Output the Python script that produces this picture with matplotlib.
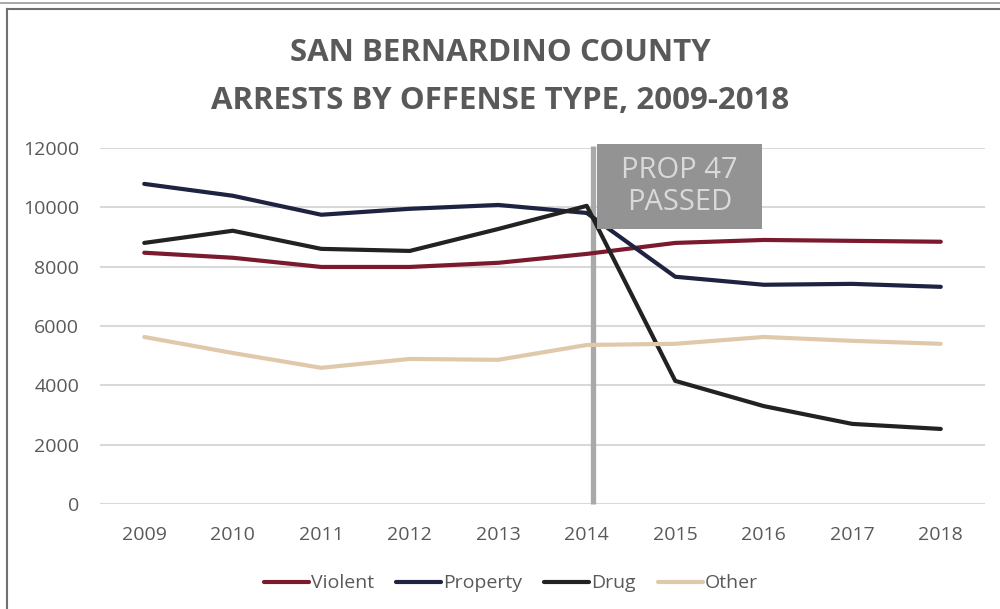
import matplotlib.pyplot as plt
from matplotlib.patches import Rectangle
from matplotlib.lines import Line2D

years = [2009, 2010, 2011, 2012, 2013, 2014, 2015, 2016, 2017, 2018]
violent = [8470, 8300, 7990, 7990, 8130, 8430, 8800, 8900, 8870, 8840]
property_ = [10790, 10390, 9750, 9950, 10080, 9810, 7660, 7390, 7420, 7320]
drug = [8800, 9210, 8600, 8530, 9270, 10050, 4150, 3300, 2700, 2530]
other = [5630, 5090, 4590, 4890, 4860, 5360, 5400, 5630, 5500, 5400]

series = [
    ("Violent", violent, "#7b1a2e"),
    ("Property", property_, "#1d2340"),
    ("Drug", drug, "#222222"),
    ("Other", other, "#dfc9aa"),
]

plt.rcParams['font.family'] = ['Open Sans', 'DejaVu Sans']
text_col = "#595959"

fig = plt.figure(figsize=(10, 6.09), dpi=100)
ax = fig.add_axes([0.1, 0.1724, 0.885, 0.5846])

# prop 47 marker
ax.plot([2014.07, 2014.07], [0, 12080], color="#a9a9a9", lw=3.8,
        solid_capstyle="butt", zorder=2, clip_on=False)

for name, vals, col in series:
    ax.plot(years, vals, color=col, lw=3, label=name, zorder=3,
            solid_capstyle="round")

ax.add_patch(Rectangle((2014.12, 9270), 1.855, 2865, facecolor="#939393",
                       edgecolor="none", zorder=4, clip_on=False))
ax.text(2015.05, 10700, "PROP 47\nPASSED", ha="center", va="center",
        color="#d9d9d9", fontsize=21, linespacing=1.15, zorder=5)

ax.set_xlim(2008.5, 2018.5)
ax.set_ylim(0, 12000)
ax.set_xticks(years)
ax.set_yticks(range(0, 12001, 2000))
ax.grid(axis="y", color="#d9d9d9", lw=1.5)
ax.set_axisbelow(True)
for s in ax.spines.values():
    s.set_visible(False)
ax.tick_params(length=0, labelsize=14, colors=text_col)
ax.tick_params(axis="x", pad=16)
ax.tick_params(axis="y", pad=15)

fig.text(0.5, 0.913, "SAN BERNARDINO COUNTY", ha="center", va="center",
         fontsize=22.5, fontweight="bold", color=text_col)
fig.text(0.5, 0.834, "ARRESTS BY OFFENSE TYPE, 2009-2018", ha="center",
         va="center", fontsize=22.5, fontweight="bold", color=text_col)

leg = fig.legend(loc="center", bbox_to_anchor=(0.511, 0.042), ncol=4,
                 frameon=False, fontsize=14, handlelength=2.3,
                 handletextpad=0.1, columnspacing=1.15)
for t in leg.get_texts():
    t.set_color(text_col)

# frame lines
fig.add_artist(Line2D([0, 1], [1 - 3 / 609, 1 - 3 / 609], color="#9a9a9a", lw=1.2))
fig.add_artist(Line2D([0.007, 1], [1 - 8.5 / 609, 1 - 8.5 / 609], color="#707070", lw=1.5))
fig.add_artist(Line2D([0.007, 0.007], [0, 1 - 8.5 / 609], color="#707070", lw=1.5))

fig.savefig("out.png", dpi=100)
